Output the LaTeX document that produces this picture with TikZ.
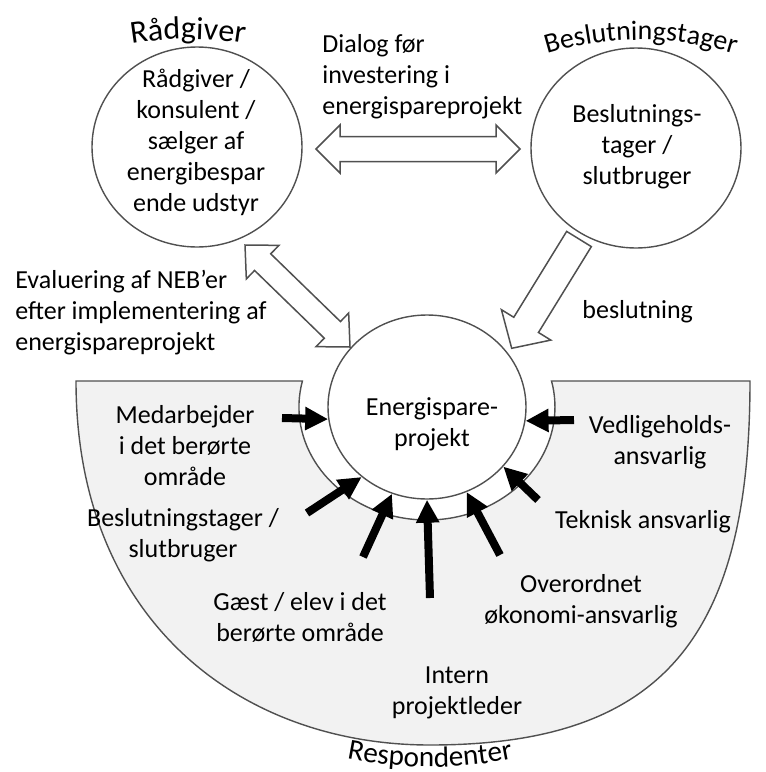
\documentclass[tikz,border=0pt]{standalone}
\usepackage{fontspec}
\setmainfont{Carlito}
\usetikzlibrary{arrows.meta,calc,decorations.text,shapes.geometric}

\definecolor{bandgray}{HTML}{F2F2F2}
\definecolor{edgegray}{HTML}{505050}

\newcommand\txtsize{\fontsize{13}{15.5}\selectfont}
\newcommand\titlesize{\fontsize{14}{17}\selectfont}
\newcommand\bigtitlesize{\fontsize{16}{19}\selectfont}
\newcommand\restitlesize{\fontsize{14.6}{17}\selectfont}

% block arrow with a head at both ends: #1,#2 ends, #3 head length,
% #4 half width of the head, #5 half width of the shaft
\newcommand\twowayarrow[5]{%
  \draw[blockarrow] (#1)
    -- ($(#1)!#3!(#2)!#4!-90:(#2)$)
    -- ($(#1)!#3!(#2)!#5!-90:(#2)$)
    -- ($(#2)!#3!(#1)!#5!90:(#1)$)
    -- ($(#2)!#3!(#1)!#4!90:(#1)$)
    -- (#2)
    -- ($(#2)!#3!(#1)!#4!-90:(#1)$)
    -- ($(#2)!#3!(#1)!#5!-90:(#1)$)
    -- ($(#1)!#3!(#2)!#5!90:(#2)$)
    -- ($(#1)!#3!(#2)!#4!90:(#2)$)
    -- cycle;}

% block arrow from tail #1 to tip #2
\newcommand\onewayarrow[5]{%
  \draw[blockarrow] ($(#1)!#5!90:(#2)$)
    -- ($(#2)!#3!(#1)!#5!-90:(#1)$)
    -- ($(#2)!#3!(#1)!#4!-90:(#1)$)
    -- (#2)
    -- ($(#2)!#3!(#1)!#4!90:(#1)$)
    -- ($(#2)!#3!(#1)!#5!90:(#1)$)
    -- ($(#1)!#5!-90:(#2)$)
    -- cycle;}

\begin{document}
\begin{tikzpicture}[x=0.5pt, y=0.5pt,
  bubble/.style={ellipse, draw=edgegray, line width=0.7pt, fill=white, inner sep=0pt},
  lbl/.style={font=\txtsize, align=center, inner sep=0pt, text=black},
  blockarrow/.style={draw=edgegray, line width=0.75pt, fill=white, line join=miter},
  resparrow/.style={line width=4pt, -{Triangle[length=11.5pt, width=11pt]}},
  curvedtitle/.style={decorate, decoration={text along path, text align=center, text={#1}}}]

\useasboundingbox (0,0) rectangle (766,-772);

% respondent area: half disc with a ring cut out around the project
\path[fill=bandgray, draw=edgegray, line width=0.7pt]
  (76,-381) -- (302.4,-381)
  arc[start angle=166.7, end angle=373.3, x radius=128, y radius=113]
  -- (750,-381)
  .. controls (750,-640) and (660,-745) .. (430,-745)
  .. controls (240,-745) and (76,-620) .. cycle;

% the three parties
\node[bubble, minimum width=105pt, minimum height=100pt] (adv) at (197,-147) {};
\node[bubble, minimum width=105pt, minimum height=100pt] (dec) at (636,-148) {};
\node[bubble, minimum width=99pt, minimum height=92pt] (ctr) at (427,-407) {};

\node[lbl] (advtext) at (196,-142) {Rådgiver /\\konsulent /\\sælger af\\energibespar\\ende udstyr};
\node[lbl] (dectext) at (637,-147) {Beslutnings-\\tager /\\slutbruger};
\node[lbl] (ctrtext) at (432,-424) {Energispare-\\projekt};

% titles bent along arcs
\coordinate (advarc) at (188,-389);
\coordinate (decarc) at (641,-360);
\coordinate (resarc) at (430,-347);
\path[curvedtitle={|\bigtitlesize|Rådgiver}] ($(advarc)+(110:350)$) arc[start angle=110, end angle=70, radius=350];
\path[curvedtitle={|\titlesize|Beslutningstager}] ($(decarc)+(120:320)$) arc[start angle=120, end angle=60, radius=320];
\path[curvedtitle={|\restitlesize|Respondenter}] ($(resarc)+(250:420)$) arc[start angle=250, end angle=290, radius=420];

% block arrows between the parties
\coordinate (dlgL) at (316,-149);
\coordinate (dlgR) at (520,-149);
\twowayarrow{dlgL}{dlgR}{12pt}{12pt}{6.25pt}
\coordinate (evalA) at (245,-245);
\coordinate (evalB) at (350,-347);
\twowayarrow{evalA}{evalB}{12.3pt}{11.7pt}{5.8pt}
\coordinate (decT) at (579,-239);
\coordinate (decH) at (511.7,-348.3);
\onewayarrow{decT}{decH}{13.75pt}{14.5pt}{7.25pt}

\node[lbl, align=left, anchor=west] (dlgtext) at (322,-77) {Dialog før\\investering i\\energispareprojekt};
\node[lbl, align=left, anchor=west] (evaltext) at (15,-313) {Evaluering af NEB’er\\efter implementering af\\energispareprojekt};
\node[lbl, anchor=west] (dectxt) at (582,-312) {beslutning};

% respondents pointing at the project
\coordinate (r1) at (282,-418);
\coordinate (r2) at (307,-513);
\coordinate (r3) at (363,-557);
\coordinate (r4) at (430,-598);
\coordinate (r5) at (500,-555);
\coordinate (r6) at (538,-500);
\coordinate (r7) at (574,-420);
\draw[resparrow] (r1) -- (ctr.187);
\draw[resparrow] (r2) -- (ctr.227);
\draw[resparrow] (r3) -- (ctr.248);
\draw[resparrow] (r4) -- (ctr.270);
\draw[resparrow] (r5) -- (ctr.295.5);
\draw[resparrow] (r6) -- (ctr.322);
\draw[resparrow] (r7) -- (ctr.352.3);

\node[lbl] (res1) at (185,-446) {Medarbejder\\i det berørte\\område};
\node[lbl] (res2) at (183,-535) {Beslutningstager /\\slutbruger};
\node[lbl] (res3) at (300,-617) {Gæst / elev i det\\berørte område};
\node[lbl] (res4) at (457,-693) {Intern\\projektleder};
\node[lbl] (res5) at (581,-601) {Overordnet\\økonomi-ansvarlig};
\node[lbl] (res6) at (643,-522) {Teknisk ansvarlig};
\node[lbl] (res7) at (660,-442) {Vedligeholds-\\ansvarlig};
\end{tikzpicture}
\end{document}
